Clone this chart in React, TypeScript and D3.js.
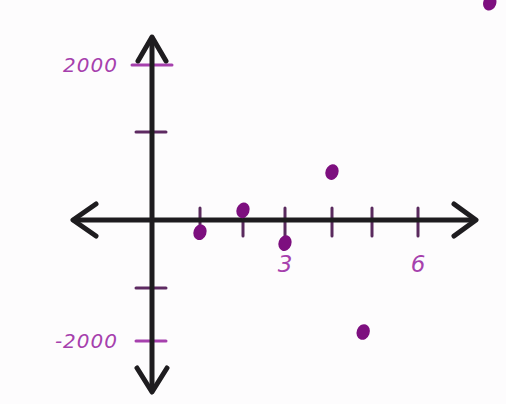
import React from "react";
import * as d3 from "d3";

// values
const xTicks = [1, 2, 3, 4, 5, 6];
const xLabels = [3, 6];
const yTicks = [-2000, -1000, 1000, 2000];
const yLabels = [-2000, 2000];
const pointX = [1, 2, 3, 4, 4.78, 7.56];
const pointY = [-180, 110, -340, 545, -1830, 2930];

const width = 506;
const height = 404;
const ink = "#1e1c1f";
const purple = "#7d0f7f";
const labelPurple = "#a640ad";

export default function App() {
  // hand drawn, so the tick spacing is uneven: piecewise linear scales
  let x = d3.scaleLinear().domain([0, 1, 2, 3, 4, 5, 6]).range([152, 200, 243, 285, 332, 372, 418]);
  let y = d3.scaleLinear().domain([-2000, -1000, 0, 1000, 2000]).range([341, 288, 220, 132, 65]);

  let x0 = x(0);
  let y0 = y(0);
  let points = pointX.map((v, i) => ({x: v, y: pointY[i]}));

  return (
    <svg width={width} height={height} style={{position: "absolute", left: 0, top: 0, background: "#fdfcfd"}}>
      {/* y ticks */}
      {yTicks.map(t => (
        <line key={"yt" + t} x1={x0 - (t === 2000 ? 20 : 16)} x2={x0 + (t === 2000 ? 20 : 14)}
          y1={y(t)} y2={y(t)} stroke={Math.abs(t) === 1000 ? "#5e2a62" : labelPurple}
          strokeWidth={3} strokeLinecap="round"/>
      ))}
      {/* x ticks */}
      {xTicks.map(t => (
        <line key={"xt" + t} x1={x(t)} x2={x(t)} y1={y0 - 12} y2={y0 + 16}
          stroke="#5a2a5e" strokeWidth={3} strokeLinecap="round"/>
      ))}

      {/* axes with open arrowheads */}
      <g stroke={ink} strokeWidth={5} fill="none" strokeLinecap="round" strokeLinejoin="round">
        <line x1={74} x2={474} y1={y0} y2={y0}/>
        <line x1={x0} x2={x0} y1={38} y2={390}/>
        <polyline points={`${96},${y0 - 16} ${73},${y0} ${96},${y0 + 16}`}/>
        <polyline points={`${454},${y0 - 16} ${476},${y0} ${454},${y0 + 16}`}/>
        <polyline points={`${x0 - 14},${61} ${x0},${37} ${x0 + 14},${61}`}/>
        <polyline points={`${x0 - 15},${368} ${x0},${392} ${x0 + 15},${368}`}/>
      </g>

      {/* labels */}
      <g fill={labelPurple} fontFamily="DejaVu Sans" fontSize={20} fontStyle="italic">
        {yLabels.map(t => (
          <text key={"yl" + t} x={x0 - 34} y={y(t)} dy="0.35em" textAnchor="end" letterSpacing={1}>
            {t === 2000 ? "2000" : "-2000"}
          </text>
        ))}
        {xLabels.map(t => (
          <text key={"xl" + t} x={x(t)} y={y0 + 52} textAnchor="middle" fontSize={23}>{t}</text>
        ))}
      </g>

      {/* points */}
      {points.map((p, i) => (
        <ellipse key={i} cx={x(p.x)} cy={y(p.y)} rx={6.5} ry={8} fill={purple}
          transform={`rotate(20 ${x(p.x)} ${y(p.y)})`}/>
      ))}
    </svg>
  );
}
